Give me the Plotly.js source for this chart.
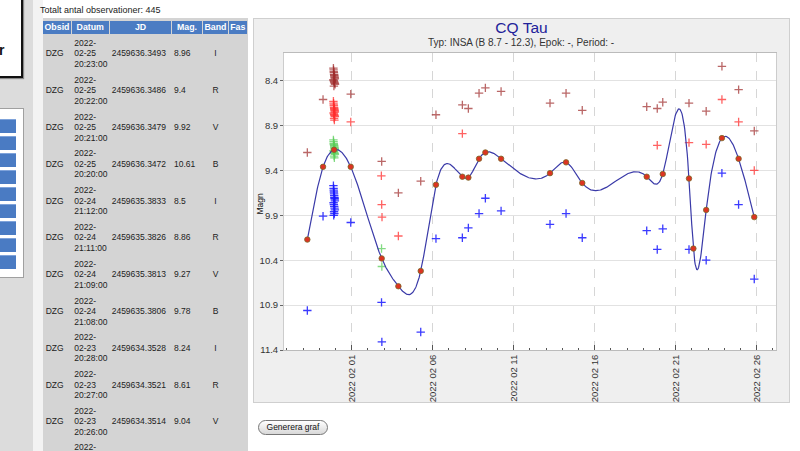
<!DOCTYPE html>
<html><head><meta charset="utf-8">
<script src="https://cdn.plot.ly/plotly-3.0.1.min.js"></script>
<style>
html,body{margin:0;padding:0;width:800px;height:451px;overflow:hidden;background:#fff;font-family:"Liberation Sans",Arial,sans-serif;}
.abs{position:absolute;}
#side{left:0;top:0;width:33px;height:451px;background:#dcdcdc;}
#gap{left:33px;top:0;width:10px;height:451px;background:#f3f3f3;}
#box{left:-60px;top:-10px;width:79px;height:84px;background:#fff;border:2.5px solid #111;box-shadow:1px 1px 1px #888;}
#rch{left:-1px;top:43px;font-size:14px;line-height:14px;font-weight:bold;color:#111;}
#panel{left:-1px;top:108px;width:23px;height:168px;background:#fff;border:1px solid #a0a0a0;}
.btn{left:0;width:16px;height:13.5px;background:#4a7bc3;border-top:1px solid #7fa3da;}
#count{left:40px;top:5px;font-size:9px;line-height:10px;color:#222;white-space:nowrap;}
#tbl{left:43px;top:18px;width:205px;height:440px;background:#d4d4d4;}
.hd{top:20.5px;height:13.5px;background:#4b7cc3;color:#fff;font-weight:bold;font-size:8.8px;line-height:13.5px;text-align:center;}
.cell{font-size:8.5px;line-height:10.5px;color:#222;white-space:nowrap;}
#frame{left:253px;top:18px;width:535px;height:383px;border:1px solid #cfcfcf;background:#efefef;}
#plot{left:254px;top:19px;width:535px;height:383px;}
#gen{left:258px;top:420px;width:68px;height:13px;border:1px solid #777;border-radius:8px;background:linear-gradient(#ffffff,#d8d8d8);font-size:8.5px;line-height:13px;text-align:center;color:#111;}
</style></head>
<body>
<div id="side" class="abs"></div>
<div id="gap" class="abs"></div>
<div id="box" class="abs"></div>
<div id="rch" class="abs">r</div>
<div id="panel" class="abs"></div>
<div id="count" class="abs">Totalt antal observationer: 445</div>
<div id="tbl" class="abs"></div>
<div id="frame" class="abs"></div>
<div id="plot" class="abs"></div>
<div id="gen" class="abs">Generera graf</div>
<script>
// ---------- table data ----------
const tObs = ['DZG','DZG','DZG','DZG','DZG','DZG','DZG','DZG','DZG','DZG','DZG'];
const tDatum = ['2022-02-25 20:23:00','2022-02-25 20:22:00','2022-02-25 20:21:00','2022-02-25 20:20:00',
  '2022-02-24 21:12:00','2022-02-24 21:11:00','2022-02-24 21:09:00','2022-02-24 21:08:00',
  '2022-02-23 20:28:00','2022-02-23 20:27:00','2022-02-23 20:26:00'];
const tJD = ['2459636.3493','2459636.3486','2459636.3479','2459636.3472','2459635.3833','2459635.3826',
  '2459635.3813','2459635.3806','2459634.3528','2459634.3521','2459634.3514'];
const tMag = ['8.96','9.4','9.92','10.61','8.5','8.86','9.27','9.78','8.24','8.61','9.04'];
const tBand = ['I','R','V','B','I','R','V','B','I','R','V'];
const tHead = ['Obsid','Datum','JD','Mag.','Band','Fas'];
const tNextRowStart = '2022-';

// ---------- chart data (JD, magnitude) ----------
const iJD = [2459608.76,2459609.73,
  2459610.37,2459610.38,2459610.39,2459610.40,2459610.41,2459610.42,2459610.43,2459610.44,2459610.45,2459610.46,
  2459610.37,2459610.39,2459610.41,2459610.43,2459610.45,2459610.47,2459610.40,
  2459611.44,2459613.35,2459614.38,2459615.76,2459616.70,2459618.33,2459618.70,2459619.36,2459619.75,
  2459620.72,2459623.74,2459624.73,2459625.73,2459629.71,2459630.36,2459630.70,2459632.32,2459633.38,
  2459634.3528,2459635.3833,2459636.3493];
const iMag = [9.20,8.61,
  8.26,8.28,8.30,8.31,8.33,8.34,8.35,8.36,8.37,8.38,
  8.39,8.40,8.41,8.42,8.43,8.44,8.46,
  8.55,9.30,9.65,9.52,8.78,8.67,8.71,8.54,8.48,
  8.52,8.65,8.54,8.73,8.69,8.71,8.64,8.65,8.74,
  8.24,8.50,8.96];

const rJD = [2459610.37,2459610.38,2459610.39,2459610.40,2459610.41,2459610.42,2459610.43,2459610.44,2459610.45,
  2459610.46,2459610.38,2459610.40,2459610.42,2459610.44,2459610.46,2459610.41,2459610.43,
  2459611.44,2459613.33,2459613.35,2459613.37,2459614.38,2459618.33,2459630.36,2459632.32,2459633.38,
  2459634.3521,2459635.3826,2459636.3486];
const rMag = [8.63,8.65,8.67,8.68,8.70,8.71,8.72,8.73,8.74,
  8.75,8.76,8.77,8.78,8.79,8.80,8.82,8.84,
  8.86,9.46,9.78,9.92,10.13,8.99,9.12,9.09,9.11,
  8.61,8.86,9.40];

const gJD = [2459610.37,2459610.38,2459610.39,2459610.40,2459610.41,2459610.42,2459610.43,2459610.44,2459610.45,
  2459610.46,2459610.38,2459610.40,2459610.42,2459610.44,2459610.46,2459610.41,2459610.43,
  2459613.34,2459613.36];
const gMag = [9.06,9.08,9.10,9.11,9.12,9.13,9.14,9.15,9.16,
  9.17,9.18,9.19,9.20,9.21,9.22,9.24,9.26,
  10.27,10.47];

const bJD = [2459608.76,2459609.73,
  2459610.37,2459610.38,2459610.39,2459610.40,2459610.41,2459610.42,2459610.43,2459610.44,2459610.45,
  2459610.46,2459610.38,2459610.40,2459610.42,2459610.44,2459610.46,2459610.41,2459610.43,2459610.39,
  2459611.44,2459613.34,2459613.36,2459615.76,2459616.70,2459618.33,2459618.70,2459619.36,2459619.75,
  2459620.72,2459623.74,2459624.73,2459625.73,2459629.71,2459630.36,2459630.70,2459632.32,2459633.38,
  2459634.3507,2459635.3806,2459636.3472];
const bMag = [10.96,9.91,
  9.57,9.60,9.62,9.64,9.66,9.68,9.70,9.71,9.72,
  9.74,9.76,9.78,9.80,9.82,9.84,9.86,9.88,9.90,
  9.98,10.87,11.31,11.20,10.16,10.15,10.04,9.88,9.71,
  9.85,10.00,9.88,10.15,10.07,10.28,10.05,10.28,10.40,
  9.43,9.78,10.61];

const vJD = [2459608.76,2459609.73,2459610.41,2459611.44,2459613.35,2459614.38,2459615.76,2459616.70,
  2459618.33,2459618.70,2459619.36,2459619.75,2459620.72,2459623.74,2459624.73,2459625.73,
  2459629.71,2459630.70,2459632.32,2459632.59,2459633.38,2459634.3514,2459635.3813,2459636.3479];
const vMag = [10.17,9.36,9.17,9.36,10.38,10.69,10.52,9.56,
  9.47,9.48,9.27,9.20,9.27,9.43,9.31,9.54,
  9.47,9.44,9.49,10.27,9.84,9.04,9.27,9.92];

const xRangeJD = [2459607.32, 2459637.69];
const yRange = [11.4, 8.092];

// ---------- build table ----------
const tbl = document.body;
function add(cls, style, html){ const d=document.createElement('div'); d.className='abs '+cls; Object.assign(d.style, style); d.innerHTML=html; tbl.appendChild(d); return d; }
const hdPos = [[43,28],[72,36.5],[110,61],[172,30],[203,25],[229,17.5]];
tHead.forEach((h,k)=>add('hd',{left:hdPos[k][0]+'px',width:hdPos[k][1]+'px'},h));
for(let k=0;k<tObs.length;k++){
  const c = 53.7 + 36.8*k;
  const p = tDatum[k].split(' '); const dd = p[0].split('-');
  add('cell',{left:'45.7px',top:(c-5.25)+'px'},tObs[k]);
  add('cell',{left:'74.3px',top:(c-15.75)+'px'},dd[0]+'-<br>'+dd[1]+'-'+dd[2]+'<br>'+p[1]);
  add('cell',{left:'111.7px',top:(c-5.25)+'px'},tJD[k]);
  add('cell',{left:'174px',top:(c-5.25)+'px'},tMag[k]);
  add('cell',{left:'203px',width:'25px',textAlign:'center',top:(c-5.25)+'px'},tBand[k]);
}
add('cell',{left:'74.3px',top:(53.7+36.8*tObs.length-16.5)+'px'},tNextRowStart);
for(let k=0;k<9;k++){ add('btn',{top:(118.7+17*k)+'px'},''); }

// ---------- chart ----------
function jd2s(j){ return new Date((j-2440587.5)*864e5).toISOString().replace('T',' ').replace('Z',''); }
const X = a => a.map(jd2s);

function natSpline(xs, ys){
  const n=xs.length, h=[], al=[], l=[], mu=[], z=[], c=[], b=[], d=[];
  for(let i=0;i<n-1;i++) h[i]=xs[i+1]-xs[i];
  for(let i=1;i<n-1;i++) al[i]=3/h[i]*(ys[i+1]-ys[i]) - 3/h[i-1]*(ys[i]-ys[i-1]);
  l[0]=1; mu[0]=0; z[0]=0;
  for(let i=1;i<n-1;i++){ l[i]=2*(xs[i+1]-xs[i-1]) - h[i-1]*mu[i-1]; mu[i]=h[i]/l[i]; z[i]=(al[i]-h[i-1]*z[i-1])/l[i]; }
  z[n-1]=0; c[n-1]=0;
  for(let j=n-2;j>=0;j--){ c[j]=z[j]-mu[j]*c[j+1]; b[j]=(ys[j+1]-ys[j])/h[j] - h[j]*(c[j+1]+2*c[j])/3; d[j]=(c[j+1]-c[j])/(3*h[j]); }
  return x => { let j=0; while(j<n-2 && x>xs[j+1]) j++; const t=x-xs[j]; return ys[j]+b[j]*t+c[j]*t*t+d[j]*t*t*t; };
}
const sp = natSpline(vJD, vMag);
const sx=[], sy=[];
const N=900;
for(let k=0;k<=N;k++){ const j = vJD[0] + (vJD[vJD.length-1]-vJD[0])*k/N; sx.push(jd2s(j)); sy.push(sp(j)); }

const plus = col => ({symbol:'cross-thin', size:6, line:{width:1.3, color:col}});
const traces = [
  {x:X(iJD), y:iMag, mode:'markers', marker:plus('rgba(160,45,45,0.72)')},
  {x:X(rJD), y:rMag, mode:'markers', marker:plus('rgba(255,45,45,0.75)')},
  {x:X(gJD), y:gMag, mode:'markers', marker:plus('rgba(90,205,90,0.75)')},
  {x:X(bJD), y:bMag, mode:'markers', marker:plus('rgba(25,25,255,0.85)')},
  {x:sx, y:sy, mode:'lines', line:{color:'#3a3aa8', width:1.2}},
  {x:X(vJD), y:vMag, mode:'markers', marker:{symbol:'circle', size:5.5, color:'#dd3322', line:{width:0.8, color:'#7a6a2a'}}}
];
const layout = {
  width:535, height:383,
  margin:{l:30, r:13, t:34, b:52},
  paper_bgcolor:'#efefef', plot_bgcolor:'#ffffff',
  showlegend:false,
  font:{family:'Liberation Sans, Arial, sans-serif', size:9.5, color:'#333'},
  title:{text:'CQ Tau', font:{size:15.5, color:'#22229a'}, x:0.5, xref:'container', xanchor:'center', y:0.978, yref:'container', yanchor:'middle'},
  xaxis:{type:'date', range:[jd2s(xRangeJD[0]), jd2s(xRangeJD[1])], tickformat:'%Y %m %d',
    tick0:'2022-02-01', dtick:5*864e5, tickangle:-90, ticks:'inside', ticklen:5, tickcolor:'#555',
    showgrid:true, gridcolor:'#d6d6d6', griddash:'dash', gridwidth:1,
    showline:true, linecolor:'#bbbbbb', mirror:true, zeroline:false,
    minor:{dtick:864e5, ticks:'inside', ticklen:2, tickcolor:'#555', showgrid:false},
    tickfont:{size:9.5, color:'#333'}},
  yaxis:{range:yRange, tick0:8.4, dtick:0.5, ticks:'outside', ticklen:3, tickcolor:'#666',
    showgrid:true, gridcolor:'#e2e2e2', gridwidth:1.2, showline:true, linecolor:'#cccccc', mirror:true, zeroline:false,
    tickfont:{size:9.5, color:'#333'}},
  annotations:[
    {text:'Typ: INSA (B 8.7 - 12.3), Epok: -, Period: -', xref:'paper', yref:'paper', x:0.4827, y:1.0354,
     xanchor:'center', yanchor:'middle', showarrow:false, font:{size:10, color:'#333'}},
    {text:'Magn', xref:'paper', yref:'paper', x:-0.0494, y:0.492, textangle:-90,
     xanchor:'center', yanchor:'middle', showarrow:false, font:{size:8.5, color:'#111'}}
  ]
};
Plotly.newPlot('plot', traces, layout, {displayModeBar:false, staticPlot:true});
</script>
</body></html>
